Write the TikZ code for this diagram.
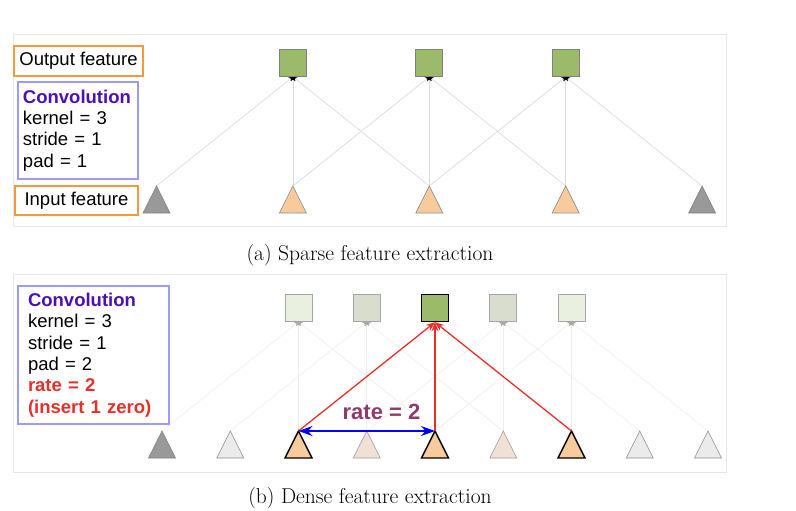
\documentclass[tikz,border=0pt]{standalone}
\usepackage{fontspec}
\newfontfamily\lsans{Liberation Sans}
\usetikzlibrary{arrows.meta,backgrounds}
\definecolor{framec}{HTML}{E6E6E6}
\definecolor{orangeb}{HTML}{F39A3C}
\definecolor{blueb}{HTML}{9A9AFF}
\definecolor{convc}{HTML}{4A0FB8}
\definecolor{redt}{HTML}{E8302A}
\definecolor{ratec}{HTML}{8E3A6E}
\definecolor{greenf}{HTML}{9BBB6A}
\definecolor{lgreenA}{HTML}{EAF0E0}
\definecolor{lgreenB}{HTML}{D8DDCE}
\definecolor{orangef}{HTML}{F8CB9C}
\definecolor{pinkf}{HTML}{F1E0D6}
\definecolor{lgrayf}{HTML}{EBEBEB}
\definecolor{grayf}{HTML}{999999}
\newcommand\mytri[4]{\coordinate (#1) at (#2,#3); \draw[#4] (#1) -- ++(13.5,27) -- ++(-27,0) -- cycle;}
\begin{document}
\begin{tikzpicture}[x=1pt,y=-1pt,
  lab/.style={font=\lsans\fontsize{18.5}{21.3}\selectfont, inner sep=0},
  orbox/.style={lab, draw=orangeb, line width=1.5pt},
  blbox/.style={lab, draw=blueb, line width=1.5pt, align=left},
  sqtop/.style={draw=black!50, fill=greenf, minimum size=27pt, inner sep=0, line width=0.8pt},
  sqA/.style={draw=black!35, fill=lgreenA, minimum size=27pt, inner sep=0, line width=0.8pt},
  sqB/.style={draw=black!35, fill=lgreenB, minimum size=27pt, inner sep=0, line width=0.8pt},
  sqM/.style={draw=black, fill=greenf, minimum size=27pt, inner sep=0, line width=1.4pt},
  tgray/.style={draw=black!50, fill=grayf, line width=0.6pt},
  torange/.style={draw=black!45, fill=orangef, line width=0.6pt},
  tlight/.style={draw=black!45, fill=lgrayf, line width=0.6pt},
  tpink/.style={draw=black!40, fill=pinkf, line width=0.6pt},
  tbold/.style={draw=black, fill=orangef, line width=1.4pt},
  conA/.style={draw=black!14, line width=0.7pt, -{Stealth[length=4pt,width=5pt,black]}},
  conB/.style={draw=black!7, line width=0.6pt, -{Stealth[length=4pt,width=5pt,black!35]}},
  conR/.style={draw=redt, line width=1.3pt, -{Stealth[length=9pt,width=7pt]}},
  rateArr/.style={draw=blue, line width=1.3pt, {Stealth[length=14pt,width=10pt]}-{Stealth[length=14pt,width=10pt]}},
  capt/.style={font=\fontsize{21.5}{24}\selectfont, inner sep=0}
]
\useasboundingbox (0,0) rectangle (796,511);

% ---------------- panel (a) ----------------
\node[sqtop] (o1) at (292.9,63) {};
\node[sqtop] (o2) at (429.3,63) {};
\node[sqtop] (o3) at (565.7,63) {};
\mytri{i1}{156.5}{186}{tgray}
\mytri{i2}{292.9}{186}{torange}
\mytri{i3}{429.3}{186}{torange}
\mytri{i4}{565.7}{186}{torange}
\mytri{i5}{702.1}{186}{tgray}

\node[orbox, minimum width=129pt, minimum height=30pt] (outlab) at (78.5,61) {Output feature};
\node[orbox, minimum width=123pt, minimum height=29pt] (inlab) at (76.5,200.5) {Input feature};
\node[blbox, inner xsep=5pt, text width=110pt, minimum height=97pt] (conv1) at (78,130.5)
  {\textcolor{convc}{\bfseries Convolution}\\kernel = 3\\stride = 1\\pad = 1};

\node[capt] (capA) at (370,255) {(a) Sparse feature extraction};

% ---------------- panel (b) ----------------
\node[sqA] (p3) at (298.5,308) {};
\node[sqB] (p4) at (366.75,308) {};
\node[sqM] (p5) at (435,308) {};
\node[sqB] (p6) at (503.25,308) {};
\node[sqA] (p7) at (571.5,308) {};
\mytri{j1}{162}{431}{tgray}
\mytri{j2}{230.25}{431}{tlight}
\mytri{j3}{298.5}{431}{tbold}
\mytri{j4}{366.75}{431}{tpink}
\mytri{j5}{435}{431}{tbold}
\mytri{j6}{503.25}{431}{tpink}
\mytri{j7}{571.5}{431}{tbold}
\mytri{j8}{639.75}{431}{tlight}
\mytri{j9}{708}{431}{tlight}

\node[blbox, inner xsep=10pt, text width=131pt, minimum height=138pt] (conv2) at (93.5,355)
  {\textcolor{convc}{\bfseries Convolution}\\kernel = 3\\stride = 1\\pad = 2\\
   \textcolor{redt}{\bfseries rate = 2}\\\textcolor{redt}{\bfseries (insert 1 zero)}};

\node[font=\lsans\bfseries\fontsize{22}{24}\selectfont, text=ratec, inner sep=0] (ratelab) at (381.5,412) {rate = 2};

\node[capt] (capB) at (370,498) {(b) Dense feature extraction};

% ---------------- background: frames and connectors ----------------
\begin{scope}[on background layer]
  \draw[framec, line width=1pt] (13,35) rectangle (726,226);
  \draw[framec, line width=1pt] (13,274) rectangle (726,472);
  \foreach \a/\b in {i1/o1,i2/o1,i3/o1,i2/o2,i3/o2,i4/o2,i3/o3,i4/o3,i5/o3}
    \draw[conA] (\a) -- (\b.south);
  \foreach \a/\b in {j1/p3,j3/p3,j5/p3,j2/p4,j4/p4,j6/p4,j4/p6,j6/p6,j8/p6,j5/p7,j7/p7,j9/p7}
    \draw[conB] (\a) -- (\b.south);
\end{scope}
\foreach \a in {j3,j5,j7}
  \draw[conR] (\a) -- (p5.south);
\draw[rateArr] (j3) -- (j5);
\end{tikzpicture}
\end{document}
